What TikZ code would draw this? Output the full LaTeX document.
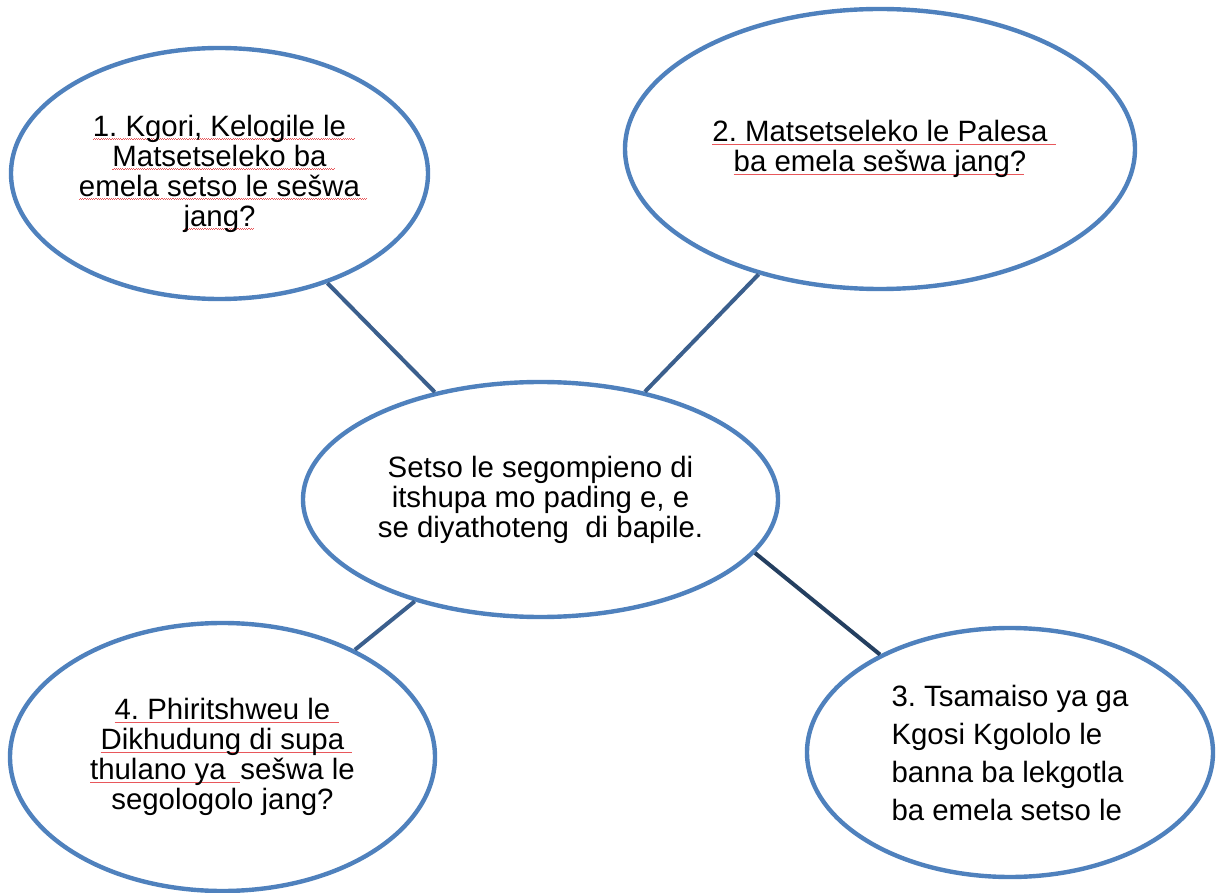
\documentclass[tikz,border=0pt]{standalone}
\usepackage{fontspec}
\setmainfont{Liberation Sans}
\usepackage{tikz}
\usetikzlibrary{shapes.geometric}
\definecolor{mapline}{HTML}{4F81BD}
\definecolor{maplink}{HTML}{3B5F8D}
\definecolor{maplinkdk}{HTML}{243F60}
\definecolor{spellred}{HTML}{E8575B}
\frenchspacing
% wavy spell-check mark under a run of text
\newlength{\spellwd}
\newcommand{\spellmark}[1]{\settowidth{\spellwd}{#1}%
  \rlap{\color{spellred}\leaders\hbox{\rule[-1.7pt]{0.55pt}{0.35pt}\rule[-1.35pt]{0.55pt}{0.35pt}}\hskip\spellwd}#1}
\tikzset{
  mapbub/.style  = {ellipse, draw=mapline, line width=2.2pt, fill=white,
                    inner sep=0pt, align=center,
                    font=\fontsize{14.7}{15}\selectfont},
  maplink/.style = {draw=maplink, line width=2pt},
}

\begin{document}
\begin{tikzpicture}[x=0.5pt, y=-0.5pt]
  \useasboundingbox (0,0) rectangle (1217,893);
  \node[mapbub, minimum width=237.5pt, minimum height=117.5pt] (core) at (540.5,499.5)
    {Setso le segompieno di\\itshupa mo pading e, e\\se diyathoteng\ \ di bapile.};
  \node[mapbub, minimum width=208.5pt, minimum height=125.5pt] (q1) at (219.5,173.5)
    {\spellmark{1. Kgori, Kelogile le\hspace{0.3em}}\\\spellmark{Matsetseleko ba\hspace{0.3em}}\\
     \spellmark{emela setso le sešwa\hspace{0.3em}}\\\spellmark{jang?}};
  \node[mapbub, minimum width=255pt, minimum height=140pt] (q2) at (880,149)
    {\spellmark{2. Matsetseleko le Palesa\hspace{0.3em}}\\\spellmark{ba emela sešwa jang?}};
  \node[mapbub, minimum width=203pt, minimum height=124.5pt, align=left,
        font=\fontsize{14.7}{19}\selectfont] (q3) at (1010,752.5)
    {3. Tsamaiso ya ga\\Kgosi Kgololo le\\banna ba lekgotla\\ba emela setso le};
  \node[mapbub, minimum width=212.5pt, minimum height=134pt] (q4) at (222.5,757)
    {\spellmark{4. Phiritshweu le\hspace{0.3em}}\\\spellmark{Dikhudung di supa\hspace{0.3em}}\\
     \spellmark{thulano ya\hspace{0.5em}}sešwa le\\segologolo jang?};

  \draw[maplink] (q1) -- (core);
  \draw[maplink] (q2) -- (core);
  \draw[maplink, draw=maplinkdk] (core.-14) -- (q3.143);
  \draw[maplink] (core) -- (q4);
\end{tikzpicture}
\end{document}
